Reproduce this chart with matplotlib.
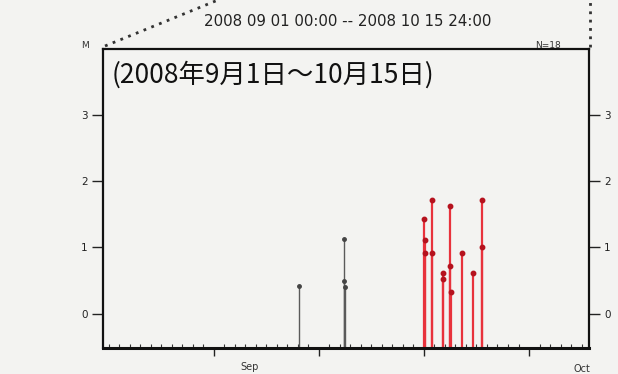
import numpy as np
import pandas as pd
import matplotlib
matplotlib.use('Agg')
import matplotlib.pyplot as plt
import matplotlib.dates as mdates
from matplotlib.lines import Line2D

# eventos (fecha, magnitud)
fechas = ['2008-09-19 02:30', '2008-09-23 09:30', '2008-09-23 10:10', '2008-09-23 11:40',
          '2008-10-01 01:00', '2008-10-01 01:30', '2008-10-01 02:10',
          '2008-10-01 18:00', '2008-10-01 18:40',
          '2008-10-02 19:00', '2008-10-02 19:40',
          '2008-10-03 12:00', '2008-10-03 12:30', '2008-10-03 13:10',
          '2008-10-04 14:30',
          '2008-10-05 16:50',
          '2008-10-06 12:00', '2008-10-06 12:40']
mags = [0.41, 1.13, 0.50, 0.40,
        1.43, 1.12, 0.91,
        1.72, 0.91,
        0.62, 0.53,
        1.63, 0.72, 0.32,
        0.92,
        0.62,
        1.72, 1.01]

inicio = '2008-09-01'
corte = '2008-10-01'   # a partir de aqui en rojo
titulo = '2008 09 01 00:00 -- 2008 10 15 24:00'
etiqueta = '(2008年9月1日～10月15日)'

df = pd.DataFrame({'t': pd.to_datetime(fechas), 'M': mags})
rojo = df['t'] >= pd.Timestamp(corte)

fondo = '#f3f3f1'
fig = plt.figure(figsize=(6.18, 3.74), dpi=100, facecolor=fondo)
ax = fig.add_axes([103/618, 1 - 348/374, (589-103)/618, (348-49)/374])
ax.set_facecolor(fondo)

ymin = -0.52
x0 = pd.Timestamp(inicio) - pd.Timedelta(hours=13)
x1 = pd.Timestamp('2008-10-16 17:00')
ax.set_xlim(x0, x1)
ax.set_ylim(ymin, 4.0)

g = df[~rojo]
r = df[rojo]
ax.vlines(g['t'], ymin, g['M'], color='#5a5a5a', lw=1.0)
ax.plot(g['t'], g['M'], 'o', ms=2.5, color='#444444')
ax.vlines(r['t'], ymin, r['M'], color='#e8323c', lw=1.6)
ax.plot(r['t'], r['M'], 'o', ms=3.2, color='#b5121e')

for s in ax.spines.values():
    s.set_linewidth(1.6)
    s.set_color('#111111')
ax.spines['bottom'].set_linewidth(2.2)

ax.set_yticks([0, 1, 2, 3])
ax.tick_params(axis='y', direction='out', length=8, width=1, labelsize=7.5,
               colors='#222222', right=True, labelright=True, pad=3)

mayores = pd.to_datetime(['2008-09-11', '2008-09-21', '2008-10-01', '2008-10-11'])
ax.set_xticks(mayores)
ax.set_xticklabels([])
ax.xaxis.set_minor_locator(mdates.DayLocator())
ax.tick_params(axis='x', which='major', direction='out', length=6, width=1, colors='#222222')
ax.tick_params(axis='x', which='minor', direction='in', length=3, width=0.8, colors='#333333')

tr = ax.get_xaxis_transform()
ax.text(pd.Timestamp('2008-09-14 10:00'), -0.065, 'Sep', transform=tr, fontsize=7,
        ha='center', va='center', color='#333333')
ax.text(pd.Timestamp('2008-10-16 02:00'), -0.07, 'Oct', transform=tr, fontsize=7,
        ha='center', va='center', color='#333333', clip_on=False)

ax.text(0.017, 0.886, etiqueta, transform=ax.transAxes, fontsize=19,
        family=['Noto Sans CJK JP', 'DejaVu Sans'], color='#111111', va='baseline')

fig.text(85/618, 1 - 45/374, 'M', fontsize=6.5, ha='center', va='center', color='#333333')
fig.text(548/618, 1 - 45/374, 'N=18', fontsize=6.5, ha='center', va='center', color='#333333')
fig.text(348/618, 1 - 22/374, titulo, fontsize=10.8, ha='center', va='center', color='#222222')

# lineas punteadas del recuadro ampliado
fig.add_artist(Line2D([105/618, 218/618], [1 - 46/374, 1.0], transform=fig.transFigure,
                      ls=(0, (1, 2)), lw=2, color='#333333'))
fig.add_artist(Line2D([590/618, 590/618], [1 - 47/374, 1.0], transform=fig.transFigure,
                      ls=(0, (1, 2)), lw=2, color='#333333'))

fig.savefig('out.png', dpi=100, facecolor=fondo)
